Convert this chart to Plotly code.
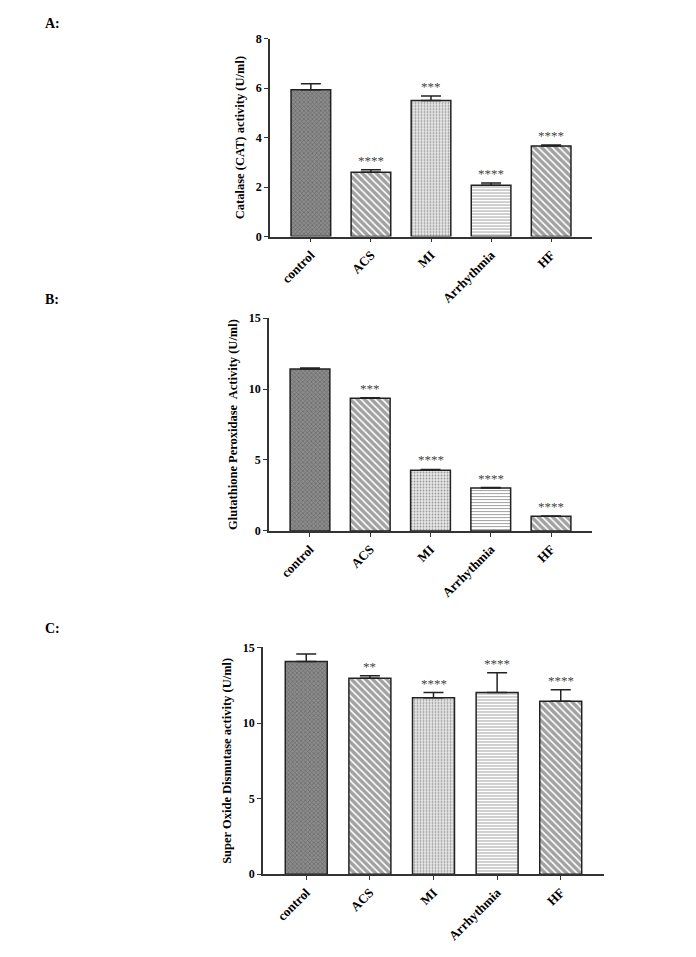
import plotly.graph_objects as go

categories = ["control", "ACS", "MI", "Arrhythmia", "HF"]

cat_mean = [5.93, 2.60, 5.50, 2.07, 3.66]
cat_err = [0.24, 0.10, 0.18, 0.09, 0.04]
cat_stars = ["", "****", "***", "****", "****"]

gpx_mean = [11.42, 9.35, 4.27, 3.02, 1.03]
gpx_err = [0.07, 0.03, 0.06, 0.04, 0.03]
gpx_stars = ["", "***", "****", "****", "****"]

sod_mean = [14.07, 12.96, 11.68, 12.02, 11.45]
sod_err = [0.50, 0.17, 0.34, 1.31, 0.76]
sod_stars = ["", "**", "****", "****", "****"]

panels = [
    dict(mean=cat_mean, err=cat_err, stars=cat_stars, label="A:",
         title="Catalase (CAT) activity (U/ml)", yrange=[0, 8], dtick=2,
         xdom=[270 / 696, 592 / 696], ydom=[1 - 233 / 957, 1 - 32 / 957],
         label_y=1 - 17 / 957),
    dict(mean=gpx_mean, err=gpx_err, stars=gpx_stars, label="B:",
         title="Glutathione Peroxidase  Activity (U/ml)", yrange=[0, 15], dtick=5,
         xdom=[269 / 696, 592 / 696], ydom=[1 - 531.7 / 957, 1 - 315.7 / 957],
         label_y=1 - 297 / 957),
    dict(mean=sod_mean, err=sod_err, stars=sod_stars, label="C:",
         title="Super Oxide Dismutase activity (U/ml)", yrange=[0, 15], dtick=5,
         xdom=[263 / 696, 604 / 696], ydom=[1 - 880 / 957, 1 - 650 / 957],
         label_y=1 - 631 / 957),
]

shapes = ["x", "\\", ".", "-", "\\"]
fgcolors = ["#404040", "#000000", "#a0a0a0", "#8a8a8a", "#000000"]
bgcolors = ["#8c8c8c", "#ffffff", "#e8e8e8", "#ffffff", "#ffffff"]
psizes = [3, 5, 3, 3, 5]
solid = [0.4, 0.68, 0.3, 0.35, 0.68]

serif = "Liberation Serif"
fig = go.Figure()
annotations = []
layout_axes = {}

for i, p in enumerate(panels):
    n = "" if i == 0 else str(i + 1)
    xa, ya = "x" + n, "y" + n
    fig.add_trace(go.Bar(
        x=categories, y=p["mean"], xaxis=xa, yaxis=ya, width=0.66,
        marker=dict(color=bgcolors,
                    line=dict(color="#222222", width=1.5),
                    pattern=dict(shape=shapes, fgcolor=fgcolors, bgcolor=bgcolors,
                                 size=psizes, solidity=solid)),
        error_y=dict(type="data", symmetric=False, array=p["err"],
                     arrayminus=[0] * 5, color="#222222", thickness=1.5, width=10),
        showlegend=False,
    ))
    for c, m, e, s in zip(categories, p["mean"], p["err"], p["stars"]):
        if s:
            annotations.append(dict(x=c, y=m + e, xref=xa, yref=ya, text=s,
                                    showarrow=False, yanchor="bottom", yshift=0,
                                    font=dict(family=serif, size=13, color="#444444")))
    annotations.append(dict(x=43 / 696, y=p["label_y"], xref="paper", yref="paper",
                            text="<b>%s</b>" % p["label"], showarrow=False,
                            xanchor="left", yanchor="middle",
                            font=dict(family=serif, size=14, color="black")))
    layout_axes["xaxis" + n] = dict(
        domain=p["xdom"], anchor=ya, range=[-0.68, 4.68],
        showline=True, linecolor="#333333", linewidth=1.5,
        ticks="outside", ticklen=4, tickcolor="#333333", tickwidth=1.2,
        tickangle=-45, showgrid=False, zeroline=False,
        tickfont=dict(family=serif, size=13, color="black", weight="bold"),
    )
    layout_axes["yaxis" + n] = dict(
        domain=p["ydom"], anchor=xa, range=p["yrange"], dtick=p["dtick"],
        showline=True, linecolor="#333333", linewidth=1.5,
        ticks="outside", ticklen=4, tickcolor="#333333", tickwidth=1.2,
        showgrid=False, zeroline=False,
        tickfont=dict(family=serif, size=12, color="black", weight="bold"),
        title=dict(text=p["title"], standoff=8,
                   font=dict(family=serif, size=12.5, color="black", weight="bold")),
    )

fig.update_layout(
    width=696, height=957,
    margin=dict(l=0, r=0, t=0, b=0),
    paper_bgcolor="white", plot_bgcolor="white",
    annotations=annotations,
    bargap=0.34,
    **layout_axes,
)

fig.write_html("out.html", config={"displayModeBar": False},
               post_script="document.body.style.margin='0';document.body.style.overflow='hidden';")
